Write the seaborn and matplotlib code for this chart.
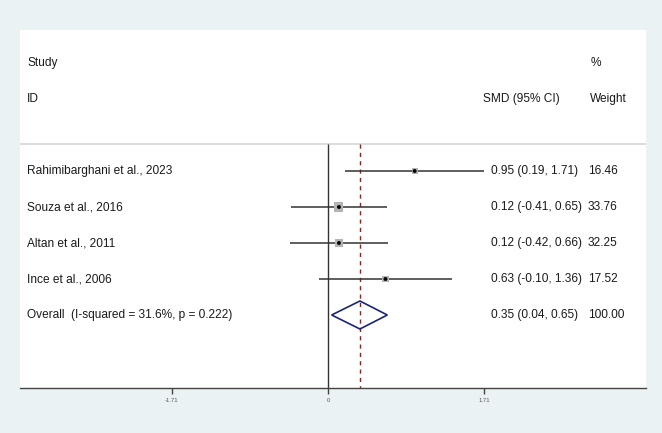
import matplotlib
matplotlib.use("Agg")
import matplotlib.pyplot as plt
import matplotlib.transforms as mtransforms
import numpy as np
import pandas as pd
import seaborn as sns

# data
studies = ["Rahimibarghani et al., 2023", "Souza et al., 2016",
           "Altan et al., 2011", "Ince et al., 2006"]
smd = [0.95, 0.12, 0.12, 0.63]
ci_low = [0.19, -0.41, -0.42, -0.10]
ci_high = [1.71, 0.65, 0.66, 1.36]
weights = [16.46, 33.76, 32.25, 17.52]

overall_label = "Overall  (I-squared = 31.6%, p = 0.222)"
overall_smd = 0.35
overall_low = 0.04
overall_high = 0.65
overall_weight = 100.00

tick_values = [-1.71, 0, 1.71]
tick_labels = ["-1.71", "0", "1.71"]

df = pd.DataFrame({"study": studies, "smd": smd, "lo": ci_low,
                   "hi": ci_high, "weight": weights})
df["row"] = np.arange(len(df))
overall_row = len(df)

sns.set_style("white")
plt.rcParams["font.family"] = ["Liberation Sans", "DejaVu Sans"]

W, H = 662, 433
fig = plt.figure(figsize=(W / 100, H / 100), dpi=100)
fig.patch.set_facecolor("#eaf2f3")

# plot region in pixels: x 20..646, y 30..388
ax = fig.add_axes([20 / W, (H - 388) / H, 626 / W, 358 / H])
ax.set_facecolor("white")

px_per_unit = 156 / 1.71
ax.set_xlim((20 - 328) / px_per_unit, (646 - 328) / px_per_unit)
ax.set_ylim((388 - 171) / 36, (30 - 171) / 36)

# separator under header and reference lines
top = -0.75
ax.axhline(top, color="#d6d6d6", lw=1.2, zorder=1)
ax.vlines(0, top, ax.get_ylim()[0], color="#333333", lw=1.0, zorder=2)
ax.vlines(overall_smd, top, ax.get_ylim()[0], color="#8b2323", lw=1.0,
          linestyles=(0, (3, 3)), zorder=2)

# confidence intervals
ax.hlines(df["row"], df["lo"], df["hi"], color="#333333", lw=1.1, zorder=3)

# weight boxes (area proportional to weight)
sns.scatterplot(data=df, x="smd", y="row", size="weight", sizes=(0, 125),
                size_norm=(0, 100), marker="s", color="#b3b3b3",
                edgecolor="none", legend=False, ax=ax, zorder=4)
sns.scatterplot(data=df, x="smd", y="row", s=8, color="black",
                edgecolor="none", legend=False, ax=ax, zorder=5)

# overall diamond
h = 14 / 36
ax.fill([overall_low, overall_smd, overall_high, overall_smd, overall_low],
        [overall_row, overall_row - h, overall_row, overall_row + h, overall_row],
        facecolor="none", edgecolor="#1c2478", lw=1.2, zorder=5)

# text columns
tr = mtransforms.blended_transform_factory(ax.transAxes, ax.transData)
fx = lambda px: (px - 20) / 626
fs = 8.6
tc = "#1a1a1a"
ax.text(fx(27), -3, "Study", transform=tr, fontsize=fs, color=tc, va="center")
ax.text(fx(27), -2, "ID", transform=tr, fontsize=fs, color=tc, va="center")
ax.text(fx(591), -3, "%", transform=tr, fontsize=fs, color=tc, va="center")
ax.text(fx(483), -2, "SMD (95% CI)", transform=tr, fontsize=fs, color=tc, va="center")
ax.text(fx(590), -2, "Weight", transform=tr, fontsize=fs, color=tc, va="center")

for _, r in df.iterrows():
    ax.text(fx(27), r["row"], r["study"], transform=tr, fontsize=fs, color=tc, va="center")
    ax.text(fx(491), r["row"], f"{r['smd']:.2f} ({r['lo']:.2f}, {r['hi']:.2f})",
            transform=tr, fontsize=fs, color=tc, va="center")
    ax.text(fx(588), r["row"], f"{r['weight']:.2f}", transform=tr, fontsize=fs,
            color=tc, va="center")

ax.text(fx(27), overall_row, overall_label, transform=tr, fontsize=fs, color=tc, va="center")
ax.text(fx(491), overall_row, f"{overall_smd:.2f} ({overall_low:.2f}, {overall_high:.2f})",
        transform=tr, fontsize=fs, color=tc, va="center")
ax.text(fx(588), overall_row, f"{overall_weight:.2f}", transform=tr, fontsize=fs,
        color=tc, va="center")

# axes styling
for s in ["top", "right", "left"]:
    ax.spines[s].set_visible(False)
ax.spines["bottom"].set_color("#444444")
ax.spines["bottom"].set_linewidth(1.0)
ax.set_xticks(tick_values)
ax.set_xticklabels(tick_labels)
ax.tick_params(axis="x", direction="out", length=4.5, width=1.0, color="#444444",
               labelsize=4.2, labelcolor="#555555", pad=3, bottom=True)
ax.set_yticks([])
ax.set_xlabel("")
ax.set_ylabel("")

fig.savefig("out.png", dpi=100, facecolor=fig.get_facecolor())
